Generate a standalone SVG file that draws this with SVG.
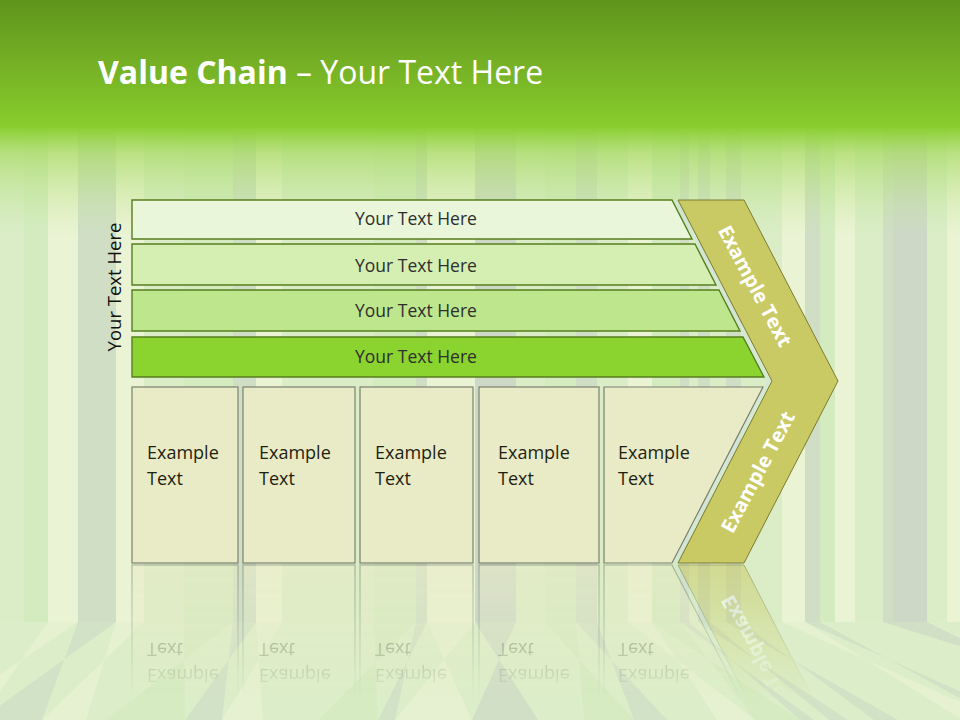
<svg xmlns="http://www.w3.org/2000/svg" width="960" height="720" viewBox="0 0 960 720">
<style>
.t{font-family:"Open Sans","Noto Sans","DejaVu Sans",sans-serif}
.bar{stroke:#557F1E;stroke-width:1.4}
.bt{font-size:17.5px;fill:#2E2E2E;text-anchor:middle}
.box{fill:#E9EAC6;stroke:#7A8070;stroke-width:1.2}
.xt{font-size:18px;fill:#1F1F10}
.cv{fill:#CACA64;stroke:#7C7B33;stroke-width:1}
.ct{font-size:20px;font-weight:bold;fill:#FFFFFF;text-anchor:middle}
.L{fill:#DAEDC7}.C{fill:#EAF3D3}.G{fill:#CFDEC5}.M{fill:#D4EBC0}.Y{fill:#CDD9C6}
</style>
<defs>
<linearGradient id="hdr" x1="0" y1="0" x2="0" y2="1">
<stop offset="0" stop-color="#5E951C"/><stop offset="0.5" stop-color="#75B025"/><stop offset="1" stop-color="#88CE2C"/>
</linearGradient>
<linearGradient id="fade" x1="0" y1="0" x2="0" y2="1">
<stop offset="0" stop-color="#88CE2C" stop-opacity="1"/><stop offset="0.25" stop-color="#A6DA60" stop-opacity="0.7"/><stop offset="1" stop-color="#C8E8A0" stop-opacity="0"/>
</linearGradient>
<linearGradient id="rm" x1="0" y1="565" x2="0" y2="700" gradientUnits="userSpaceOnUse">
<stop offset="0" stop-color="#fff" stop-opacity="0.55"/><stop offset="1" stop-color="#fff" stop-opacity="0"/>
</linearGradient>
<mask id="refmask" maskUnits="userSpaceOnUse" x="0" y="560" width="960" height="160">
<rect x="0" y="560" width="960" height="160" fill="url(#rm)"/>
</mask>
</defs>

<g id="background">
<rect x="0" y="0" width="960" height="720" fill="#DAEDC7"/>
<g id="stripes">
<rect class="L" x="0" y="120" width="24" height="502"/>
<rect class="M" x="24" y="120" width="24" height="502"/>
<rect class="C" x="48" y="120" width="30" height="502"/>
<rect class="G" x="78" y="120" width="38" height="502"/>
<rect class="C" x="116" y="120" width="28" height="502"/>
<rect class="L" x="144" y="120" width="40" height="502"/>
<rect class="M" x="184" y="120" width="49" height="502"/>
<rect class="G" x="233" y="120" width="23" height="502"/>
<rect class="C" x="256" y="120" width="26" height="502"/>
<rect class="L" x="282" y="120" width="92" height="502"/>
<rect class="M" x="374" y="120" width="42" height="502"/>
<rect class="G" x="416" y="120" width="11" height="502"/>
<rect class="C" x="427" y="120" width="48" height="502"/>
<rect class="Y" x="475" y="120" width="41" height="502"/>
<rect class="L" x="516" y="120" width="29" height="502"/>
<rect class="M" x="545" y="120" width="31" height="502"/>
<rect class="G" x="576" y="120" width="21" height="502"/>
<rect class="L" x="597" y="120" width="31" height="502"/>
<rect class="C" x="628" y="120" width="24" height="502"/>
<rect class="M" x="652" y="120" width="28" height="502"/>
<rect class="G" x="680" y="120" width="9" height="502"/>
<rect class="L" x="689" y="120" width="9" height="502"/>
<rect class="G" x="698" y="120" width="12" height="502"/>
<rect class="L" x="710" y="120" width="16" height="502"/>
<rect class="G" x="726" y="120" width="15" height="502"/>
<rect class="L" x="741" y="120" width="41" height="502"/>
<rect class="C" x="782" y="120" width="23" height="502"/>
<rect class="G" x="805" y="120" width="15" height="502"/>
<rect class="M" x="820" y="120" width="15" height="502"/>
<rect class="C" x="835" y="120" width="20" height="502"/>
<rect class="L" x="855" y="120" width="28" height="502"/>
<rect class="G" x="883" y="120" width="10" height="502"/>
<rect class="Y" x="893" y="120" width="34" height="502"/>
<rect class="L" x="927" y="120" width="20" height="502"/>
<rect class="C" x="947" y="120" width="13" height="502"/>
</g>
<g id="floor">
<rect x="0" y="622" width="960" height="98" fill="#DCEEC9"/>
<g opacity="0.7">
<polygon class="C" points="48,622 78,622 -68,720 -20,720"/>
<polygon class="G" points="78,622 116,622 -20,720 42,720"/>
<polygon class="C" points="116,622 144,622 42,720 86,720"/>
<polygon class="M" points="184,622 233,622 106,720 185,720"/>
<polygon class="G" points="233,622 256,622 185,720 222,720"/>
<polygon class="C" points="256,622 282,622 222,720 263,720"/>
<polygon class="M" points="374,622 416,622 318,720 378,720"/>
<polygon class="G" points="416,622 427,622 378,720 395,720"/>
<polygon class="C" points="427,622 475,622 395,720 472,720"/>
<polygon class="Y" points="475,622 516,622 472,720 538,720"/>
<polygon class="M" points="545,622 576,622 584,720 634,720"/>
<polygon class="G" points="576,622 597,622 634,720 667,720"/>
<polygon class="C" points="628,622 652,622 717,720 755,720"/>
<polygon class="M" points="652,622 680,622 755,720 800,720"/>
<polygon class="G" points="680,622 689,622 800,720 814,720"/>
<polygon class="G" points="698,622 710,622 829,720 848,720"/>
<polygon class="G" points="726,622 741,622 874,720 898,720"/>
<polygon class="C" points="782,622 805,622 963,720 1000,720"/>
<polygon class="G" points="805,622 820,622 1000,720 1024,720"/>
<polygon class="Y" points="883,622 927,622 1125,720 1195,720"/>
</g>
</g>
<rect x="0" y="0" width="960" height="128" fill="url(#hdr)"/>
<rect x="0" y="126" width="960" height="110" fill="url(#fade)"/>
</g>

<text id="title" class="t" x="98" y="84" font-size="32" fill="#FFFFFF"><tspan font-weight="bold">Value Chain</tspan> – Your Text Here</text>

<g id="side-label">
<text class="t" x="0" y="0" font-size="18.5" fill="#111" text-anchor="middle" transform="translate(121,287) rotate(-90)">Your Text Here</text>
</g>

<g id="bars">
<g id="bar1"><polygon class="bar" fill="#E9F6DA" points="132,200 672,200 692,239 132,239"/><text class="t bt" x="416" y="225">Your Text Here</text></g>
<g id="bar2"><polygon class="bar" fill="#D5EEB2" points="132,244 695,244 716,285 132,285"/><text class="t bt" x="416" y="272">Your Text Here</text></g>
<g id="bar3"><polygon class="bar" fill="#BEE78D" points="132,290 719,290 740,331 132,331"/><text class="t bt" x="416" y="317">Your Text Here</text></g>
<g id="bar4"><polygon class="bar" fill="#8BD32F" points="132,337 743,337 764,377 132,377"/><text class="t bt" x="416" y="363">Your Text Here</text></g>
</g>

<g id="main">
<g id="boxes">
<g id="box1"><rect class="box" x="132" y="387" width="106" height="176"/><text class="t xt" x="147" y="459">Example</text><text class="t xt" x="147" y="485">Text</text></g>
<g id="box2"><rect class="box" x="243" y="387" width="112" height="176"/><text class="t xt" x="259" y="459">Example</text><text class="t xt" x="259" y="485">Text</text></g>
<g id="box3"><rect class="box" x="360" y="387" width="113" height="176"/><text class="t xt" x="375" y="459">Example</text><text class="t xt" x="375" y="485">Text</text></g>
<g id="box4"><rect class="box" x="479" y="387" width="120" height="176"/><text class="t xt" x="498" y="459">Example</text><text class="t xt" x="498" y="485">Text</text></g>
<g id="box5"><polygon class="box" points="604,387 763,387 672,563 604,563"/><text class="t xt" x="618" y="459">Example</text><text class="t xt" x="618" y="485">Text</text></g>
</g>
<g id="chevron">
<polyline points="675,200 769,381 675,563" fill="none" stroke="#D2E6DA" stroke-width="3" opacity="0.8"/>
<polygon class="cv" points="678,200 744,200 838,381 744,563 678,563 772,381"/>
<text class="t ct" x="0" y="7" transform="translate(755,286) rotate(62)">Example Text</text>
<text class="t ct" x="0" y="7" transform="translate(758,472) rotate(-62)">Example Text</text>
</g>
</g>

<g id="reflection" mask="url(#refmask)">
<use href="#main" transform="translate(0,1128) scale(1,-1)"/>
</g>

<g id="connectors"></g>
</svg>
